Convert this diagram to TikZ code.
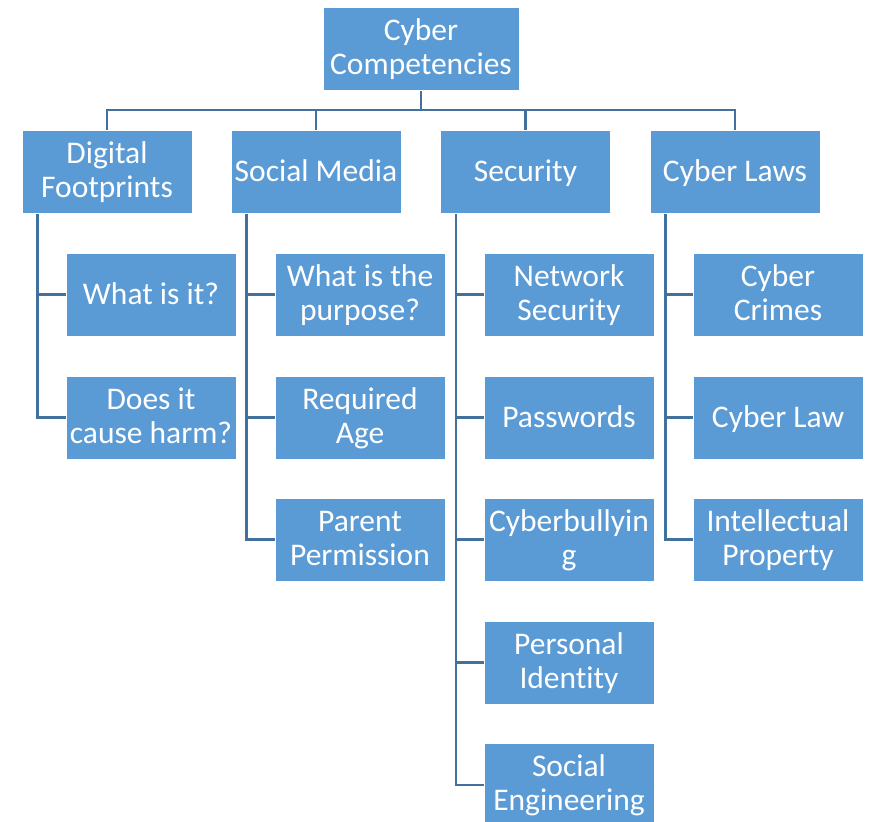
\documentclass[tikz,border=0pt]{standalone}
\usepackage{fontspec}
\setmainfont{Carlito}[Ligatures=NoCommon]
\usetikzlibrary{backgrounds}
\definecolor{boxblue}{HTML}{5B9BD5}
\definecolor{lineblue}{HTML}{41719C}
\begin{document}
\begin{tikzpicture}[x=1pt,y=-1pt,
  cbox/.style={rectangle, fill=boxblue, draw=white, line width=0.8pt,
    minimum width=170pt, minimum height=83pt, inner sep=0pt,
    text=white, align=center, font=\fontsize{31.5}{34}\selectfont,
    text height=26pt, text depth=7pt},
  cbox2/.style={cbox, text height=60pt, text depth=9pt},
  conn/.style={draw=lineblue, line width=2.6pt}]
\useasboundingbox (0,0) rectangle (876,822);
% root
\node[cbox2, minimum width=196pt] (root) at (421,48.5) {Cyber\\Competencies};
% level 1
\node[cbox2] (df) at (107,171.5) {Digital\\Footprints};
\node[cbox] (sm) at (316,171.5) {Social Media};
\node[cbox] (se) at (525.5,171.5) {Security};
\node[cbox] (cl) at (735,171.5) {Cyber Laws};
% children
\node[cbox] (df1) at (151,294.5) {What is it?};
\node[cbox2] (df2) at (151,417.5) {Does it\\cause harm?};
\node[cbox2] (sm1) at (360,294.5) {What is the\\purpose?};
\node[cbox2] (sm2) at (360,417.5) {Required\\Age};
\node[cbox2] (sm3) at (360,539.5) {Parent\\Permission};
\node[cbox2] (se1) at (569,294.5) {Network\\Security};
\node[cbox] (se2) at (569,417.5) {Passwords};
\node[cbox2] (se3) at (569,539.5) {Cyberbullyin\\g};
\node[cbox2] (se4) at (569,662.5) {Personal\\Identity};
\node[cbox2] (se5) at (569,785) {Social\\Engineering};
\node[cbox2] (cl1) at (778,294.5) {Cyber\\Crimes};
\node[cbox] (cl2) at (778,417.5) {Cyber Law};
\node[cbox2] (cl3) at (778,539.5) {Intellectual\\Property};
% connectors
\coordinate (bus) at (0,110);
\coordinate (dfs) at ([xshift=16pt]df.south west);
\coordinate (sms) at ([xshift=16pt]sm.south west);
\coordinate (ses) at ([xshift=16pt]se.south west);
\coordinate (cls) at ([xshift=16pt]cl.south west);
\begin{pgfonlayer}{background}
\draw[conn] (root.south) -- (root.south |- bus) -| (df.north);
\draw[conn] (root.south |- bus) -| (sm.north);
\draw[conn] (root.south |- bus) -| (se.north);
\draw[conn] (root.south |- bus) -| (cl.north);
\draw[conn] (dfs) |- (df1.west);
\draw[conn] (dfs) |- (df2.west);
\draw[conn] (sms) |- (sm1.west);
\draw[conn] (sms) |- (sm2.west);
\draw[conn] (sms) |- (sm3.west);
\draw[conn] (ses) |- (se1.west);
\draw[conn] (ses) |- (se2.west);
\draw[conn] (ses) |- (se3.west);
\draw[conn] (ses) |- (se4.west);
\draw[conn] (ses) |- (se5.west);
\draw[conn] (cls) |- (cl1.west);
\draw[conn] (cls) |- (cl2.west);
\draw[conn] (cls) |- (cl3.west);
\end{pgfonlayer}
\end{tikzpicture}
\end{document}
